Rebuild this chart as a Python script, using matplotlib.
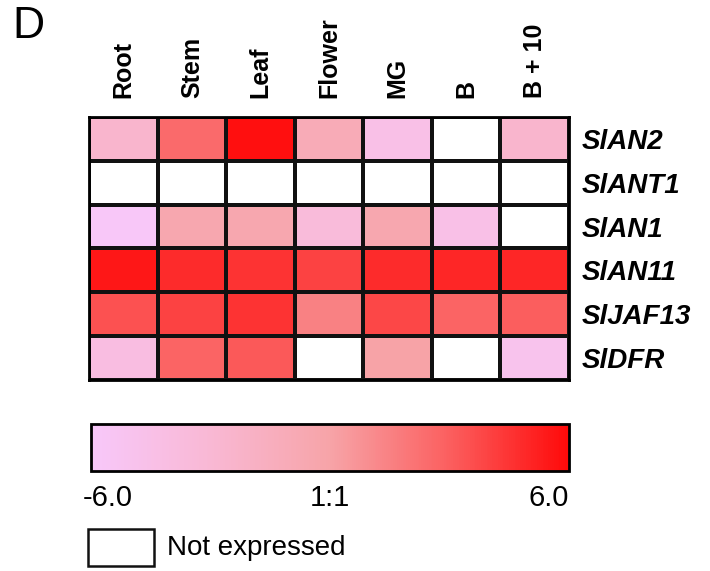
import matplotlib
matplotlib.use('Agg')
import matplotlib.pyplot as plt
from matplotlib.colors import LinearSegmentedColormap
from matplotlib.patches import Rectangle
from matplotlib.transforms import ScaledTranslation
import numpy as np

plt.rcParams['font.family'] = ['Liberation Sans', 'DejaVu Sans']

tissues = ['Root', 'Stem', 'Leaf', 'Flower', 'MG', 'B', 'B + 10']
genes = ['SlAN2', 'SlANT1', 'SlAN1', 'SlAN11', 'SlJAF13', 'SlDFR']
nan = np.nan
# log ratio per gene (rows) and tissue (cols), nan = not expressed
values = [
    [-2.5, 2.5, 5.8, -1.0, -4.5, nan, -2.5],
    [nan, nan, nan, nan, nan, nan, nan],
    [-5.8, -0.5, -0.5, -3.5, -0.5, -4.5, nan],
    [5.5, 4.8, 4.5, 4.0, 4.8, 5.0, 5.0],
    [3.5, 4.0, 4.5, 1.5, 3.8, 2.8, 3.0],
    [-4.0, 2.8, 3.2, nan, 0.0, nan, -5.0],
]
cbar_ticks = [-6, 0, 6]
cbar_labels = ['-6.0', '1:1', '6.0']

cmap = LinearSegmentedColormap.from_list('pinkred', [
    (0.0, '#f8c8fa'), (0.25, '#f9b8d4'), (0.5, '#f7a4a8'),
    (0.75, '#fb5f5f'), (1.0, '#ff0a0a')])
cmap.set_bad('white')

fig = plt.figure(figsize=(7.1, 5.71), dpi=100)

ax = fig.add_axes([0.126, 0.3345, 0.6754, 0.4606])
data = np.ma.masked_invalid(np.array(values))
mesh = ax.pcolormesh(data, cmap=cmap, vmin=-6, vmax=6,
                     edgecolors='#111111', linewidth=1.5)
ax.set_xlim(0, len(tissues))
ax.set_ylim(len(genes), 0)
ax.xaxis.tick_top()
ax.set_xticks(np.arange(len(tissues)) + 0.5)
ax.set_xticklabels(tissues, rotation=90, fontsize=18, fontweight='bold')
ax.yaxis.tick_right()
ax.set_yticks(np.arange(len(genes)) + 0.5)
ax.set_yticklabels(genes, fontsize=20, fontweight='bold', fontstyle='italic')
ax.tick_params(axis='x', length=0, pad=14)
ax.tick_params(axis='y', length=0, pad=9)
for s in ax.spines.values():
    s.set_linewidth(2)

cax = fig.add_axes([0.128, 0.1751, 0.673, 0.0823])
cb = fig.colorbar(mesh, cax=cax, orientation='horizontal', ticks=cbar_ticks)
cb.set_ticklabels(cbar_labels)
cb.outline.set_linewidth(2)
cax.tick_params(length=0, pad=9, labelsize=21)
tl = cax.get_xticklabels()
tl[0].set_ha('left')
tl[0].set_transform(tl[0].get_transform() + ScaledTranslation(-6 / 72, 0, fig.dpi_scale_trans))
tl[-1].set_ha('right')

fig.patches.append(Rectangle((0.124, 0.0088), 0.093, 0.0648, transform=fig.transFigure,
                             facecolor='white', edgecolor='#111111', linewidth=1.8))
fig.text(0.235, 0.04, 'Not expressed', fontsize=20, va='center', ha='left')
fig.text(0.018, 0.99, 'D', fontsize=32, va='top', ha='left')

fig.savefig('out.png', dpi=100)
